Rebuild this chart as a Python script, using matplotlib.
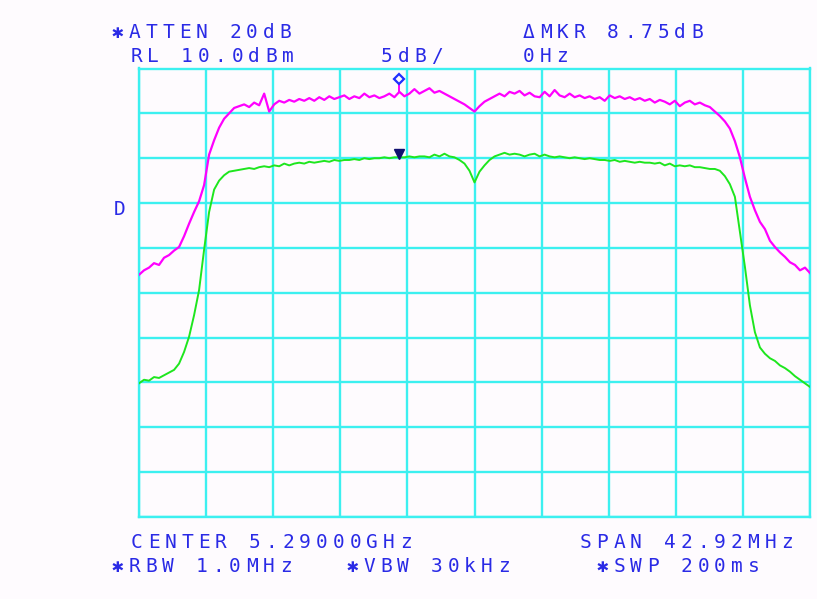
import matplotlib
matplotlib.use("Agg")
import matplotlib.pyplot as plt
import numpy as np

# analyzer settings
center_ghz = 5.29
span_mhz = 42.92
ref_level = 10.0      # dBm, top graticule line
db_per_div = 5.0
n_div = 10

# sweep points, offset from center frequency (MHz)
n_points = 135
freq = np.linspace(-span_mhz / 2, span_mhz / 2, n_points)

# trace A (magenta), dBm
trace_a = [
    -13.0, -12.5, -12.2, -11.7, -11.9, -11.1, -10.8, -10.3, -9.9, -8.7,
    -7.3, -6.0, -4.8, -3.0, 0.4, 2.0, 3.4, 4.4, 5.0, 5.6,
    5.8, 6.0, 5.7, 6.2, 5.9, 7.2, 5.2, 6.0, 6.4, 6.2,
    6.5, 6.3, 6.6, 6.4, 6.7, 6.4, 6.8, 6.5, 6.9, 6.6,
    6.8, 7.0, 6.6, 6.9, 6.7, 7.2, 6.8, 7.0, 6.7, 6.9,
    7.2, 6.8, 7.4, 6.9, 7.2, 7.7, 7.2, 7.5, 7.8, 7.3,
    7.5, 7.2, 6.9, 6.6, 6.3, 6.0, 5.6, 5.2, 5.8, 6.3,
    6.6, 6.9, 7.2, 6.9, 7.4, 7.2, 7.5, 7.0, 7.3, 6.9,
    6.8, 7.4, 6.9, 7.6, 7.0, 6.8, 7.2, 6.8, 7.0, 6.7,
    6.9, 6.6, 6.8, 6.4, 7.0, 6.7, 6.9, 6.6, 6.8, 6.5,
    6.7, 6.4, 6.6, 6.2, 6.5, 6.3, 6.0, 6.4, 5.8, 6.2,
    6.4, 6.0, 6.2, 5.9, 5.7, 5.2, 4.7, 4.1, 3.3, 1.9,
    0.1, -2.2, -4.3, -5.8, -7.1, -7.9, -9.2, -9.9, -10.5, -11.0,
    -11.6, -11.9, -12.5, -12.2, -12.8,
]

# trace B (green), dBm
trace_b = [
    -25.1, -24.7, -24.8, -24.4, -24.5, -24.2, -23.9, -23.6, -22.9, -21.6,
    -19.9, -17.5, -14.7, -10.2, -6.0, -3.5, -2.5, -1.9, -1.5, -1.4,
    -1.3, -1.2, -1.1, -1.2, -1.0, -0.9, -1.0, -0.8, -0.9, -0.6,
    -0.8, -0.6, -0.5, -0.6, -0.4, -0.5, -0.4, -0.3, -0.4, -0.2,
    -0.3, -0.2, -0.2, -0.1, -0.2, 0.0, -0.1, 0.0, 0.0, 0.1,
    0.0, 0.1, 0.1, 0.1, 0.2, 0.1, 0.2, 0.2, 0.1, 0.4,
    0.2, 0.5, 0.2, 0.1, -0.2, -0.6, -1.4, -2.7, -1.5, -0.8,
    -0.2, 0.2, 0.4, 0.6, 0.4, 0.5, 0.4, 0.2, 0.4, 0.5,
    0.2, 0.4, 0.2, 0.1, 0.2, 0.1, 0.0, 0.1, 0.0, -0.1,
    0.0, -0.1, -0.2, -0.2, -0.3, -0.2, -0.4, -0.3, -0.4, -0.5,
    -0.4, -0.5, -0.5, -0.6, -0.5, -0.8, -0.6, -0.9, -0.8, -0.9,
    -0.8, -1.0, -1.0, -1.1, -1.2, -1.2, -1.4, -2.0, -2.9, -4.3,
    -8.2, -12.1, -16.4, -19.4, -21.1, -21.8, -22.3, -22.6, -23.1, -23.4,
    -23.8, -24.3, -24.7, -25.1, -25.5,
]

# markers: reference marker on trace B, delta marker on trace A
mkr_freq = -4.80
mkr_ref_level = 0.1
mkr_delta = 8.75
mkr_trace_a = 7.4

bg = "#fefbfe"
grid_c = "#3cf0f0"
txt_c = "#2a2ae6"
W, H = 817, 599

fig = plt.figure(figsize=(W / 100, H / 100), dpi=100, facecolor=bg)
ax = fig.add_axes([139 / W, 82 / H, 671 / W, 448.5 / H])
ax.set_facecolor(bg)

bottom = ref_level - n_div * db_per_div
ax.set_xlim(-span_mhz / 2, span_mhz / 2)
ax.set_ylim(bottom, ref_level)
ax.set_xticks(np.linspace(-span_mhz / 2, span_mhz / 2, n_div + 1))
ax.set_yticks(np.linspace(bottom, ref_level, n_div + 1))
ax.tick_params(length=0, labelbottom=False, labelleft=False)
ax.grid(color=grid_c, lw=1.7)
ax.set_axisbelow(True)
for sp in ax.spines.values():
    sp.set_color(grid_c)
    sp.set_linewidth(1.7)

ax.plot(freq, trace_a, color="#ff00ff", lw=1.6, zorder=3)
ax.plot(freq, trace_b, color="#1ee61e", lw=1.4, zorder=3)

# delta marker with stem down to the trace
mkr_a = mkr_ref_level + mkr_delta
ax.vlines(mkr_freq, mkr_trace_a, mkr_a, color="#ff00ff", lw=1.4, zorder=3)
ax.plot(mkr_freq, mkr_a, marker="D", ms=5.5, mfc=bg, mec="#2030ff", mew=1.6,
        clip_on=False, zorder=4)
ax.plot(mkr_freq, mkr_ref_level + 0.35, marker="v", ms=6.5, color="#101070",
        zorder=4)


def mono_text(s, cx0, base_y, pitch=16.8):
    # fixed-pitch screen text, one glyph per cell
    for k, ch in enumerate(s):
        if ch == " ":
            continue
        fig.text((cx0 + k * pitch) / W, 1 - base_y / H, ch, ha="center",
                 va="baseline", color=txt_c, fontsize=14,
                 family=["DejaVu Sans Mono", "DejaVu Sans"])


mono_text("✱ATTEN 20dB", 117.5, 37.5)
mono_text("ΔMKR 8.75dB", 529, 37.5)
mono_text("RL 10.0dBm", 136.5, 62)
mono_text("5dB/", 386.5, 62)
mono_text("0Hz", 528.5, 62)
mono_text("D", 120, 215)
mono_text("CENTER %.5fGHz" % center_ghz, 137, 548)
mono_text("SPAN %.2fMHz" % span_mhz, 585.5, 548)
mono_text("✱RBW 1.0MHz", 117.5, 572)
mono_text("✱VBW 30kHz", 352.5, 572)
mono_text("✱SWP 200ms", 602.5, 572)

fig.savefig("out.png", dpi=100, facecolor=bg)
